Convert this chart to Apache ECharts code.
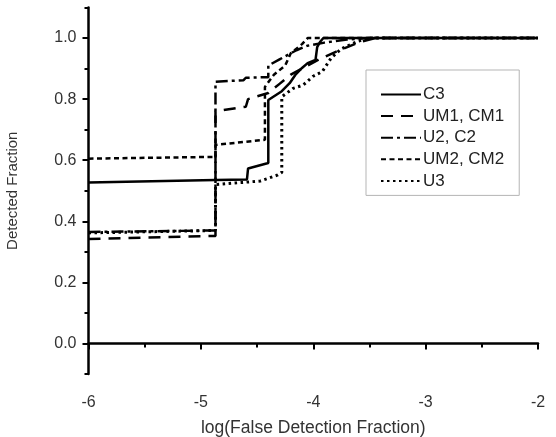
<!DOCTYPE html>
<html>
<head>
<meta charset="utf-8">
<script src="https://cdn.jsdelivr.net/npm/echarts@6/dist/echarts.min.js"></script>
<style>
  html, body { margin: 0; padding: 0; background: #fff; }
  #chart { width: 556px; height: 437px; }
</style>
</head>
<body>
<div id="chart"></div>
<script>
    // series values: [log(false detection fraction), detected fraction]
    var c3 = [[-6, 0.527], [-4.87, 0.535], [-4.59, 0.537], [-4.58, 0.573], [-4.40, 0.591], [-4.40, 0.797],
        [-4.28, 0.826], [-4.21, 0.852], [-4.16, 0.879], [-4.10, 0.902], [-4.05, 0.918], [-3.98, 0.928],
        [-3.965, 0.970], [-3.94, 0.987], [-3.91, 1.0], [-2, 1.0]];
    var um1 = [[-6, 0.342], [-4.87, 0.352], [-4.87, 0.76], [-4.60, 0.775], [-4.58, 0.80], [-4.40, 0.82],
        [-4.30, 0.85], [-4.20, 0.88], [-4.10, 0.90], [-3.95, 0.93], [-3.80, 0.955], [-3.60, 0.985],
        [-3.45, 1.0], [-2, 1.0]];
    var u2 = [[-6, 0.365], [-4.87, 0.37], [-4.87, 0.857], [-4.62, 0.862], [-4.60, 0.87], [-4.40, 0.872],
        [-4.40, 0.91], [-4.30, 0.93], [-4.20, 0.95], [-4.15, 0.96], [-4.05, 0.975], [-3.90, 0.985],
        [-3.70, 0.995], [-3.50, 1.0], [-2, 1.0]];
    var um2 = [[-6, 0.605], [-4.87, 0.611], [-4.87, 0.65], [-4.43, 0.667], [-4.43, 0.84], [-4.35, 0.88],
        [-4.25, 0.91], [-4.20, 0.95], [-4.10, 0.98], [-4.05, 1.0], [-2, 1.0]];
    var u3 = [[-6, 0.362], [-4.87, 0.37], [-4.87, 0.52], [-4.47, 0.532], [-4.32, 0.551], [-4.28, 0.56],
        [-4.28, 0.808], [-4.18, 0.835], [-4.09, 0.846], [-4.00, 0.875], [-3.92, 0.89], [-3.84, 0.935],
        [-3.75, 0.965], [-3.60, 0.99], [-3.50, 1.0], [-2, 1.0]];

    var seriesNames = ['C3', 'UM1, CM1', 'U2, C2', 'UM2, CM2', 'U3'];

    // tick labels
    var yMajorTicks = [0, 0.2, 0.4, 0.6, 0.8, 1.0];
    var yMinorTicks = [-0.1, 0.1, 0.3, 0.5, 0.7, 0.9, 1.1];

    var font = 'Liberation Sans, Arial, sans-serif';

    function line(name, data, type, width) {
        return {
            name: name,
            type: 'line',
            data: data,
            symbol: 'none',
            lineStyle: { color: '#000', width: width || 2.5, type: type },
            itemStyle: { color: '#000' }
        };
    }

    var myChart = echarts.init(document.getElementById('chart'));
    var option = {
        animation: false,
        grid: { left: 88.5, right: 18, top: 7.5, bottom: 63, outerBoundsMode: 'none' },
        legend: {
            data: seriesNames,
            orient: 'vertical',
            left: 366,
            top: 70,
            padding: [16, 15, 6, 14],
            itemWidth: 40,
            itemHeight: 14,
            itemGap: 4.6,
            borderColor: '#b5b5b5',
            borderWidth: 1,
            itemStyle: { opacity: 0 },
            textStyle: { fontFamily: font, fontSize: 17, color: '#222', padding: [0, 0, 0, -3] }
        },
        xAxis: {
            type: 'value',
            min: -6,
            max: -2,
            interval: 1,
            name: 'log(False Detection Fraction)',
            nameLocation: 'middle',
            nameGap: 45,
            nameTextStyle: { fontFamily: font, fontSize: 17.5, color: '#333' },
            axisLine: { lineStyle: { color: '#000', width: 2.5 } },
            axisTick: { length: 6, lineStyle: { color: '#000', width: 2 } },
            minorTick: { show: true, splitNumber: 2, length: 4, lineStyle: { color: '#000', width: 2 } },
            splitLine: { show: false },
            axisLabel: { fontFamily: font, fontSize: 16, color: '#333', margin: 21 }
        },
        yAxis: [
            {
                type: 'value',
                min: -0.1,
                max: 1.1,
                interval: 0.1,
                name: 'Detected Fraction',
                nameLocation: 'middle',
                nameGap: 68,
                nameRotate: 90,
                nameTextStyle: { fontFamily: font, fontSize: 15, color: '#333' },
                axisLine: { show: true, onZero: false, lineStyle: { color: '#000', width: 2.5 } },
                axisTick: { customValues: yMajorTicks, length: 6, lineStyle: { color: '#000', width: 2 } },
                splitLine: { show: false },
                axisLabel: {
                    customValues: yMajorTicks, fontFamily: font, fontSize: 16, color: '#333', margin: 12,
                    formatter: function (v) { return v.toFixed(1); }
                }
            },
            {
                type: 'value',
                min: -0.1,
                max: 1.1,
                interval: 0.1,
                position: 'left',
                axisLine: { show: false, onZero: false },
                axisTick: { show: true, customValues: yMinorTicks, length: 4, lineStyle: { color: '#000', width: 2 } },
                splitLine: { show: false },
                axisLabel: { show: false }
            }
        ],
        series: [
            line('C3', c3, 'solid'),
            line('UM1, CM1', um1, [12, 8]),
            line('U2, C2', u2, [12, 4, 3, 4]),
            line('UM2, CM2', um2, [5, 3.5]),
            line('U3', u3, [2.5, 3.5], 3)
        ]
    };
    myChart.setOption(option);
</script>
</body>
</html>
